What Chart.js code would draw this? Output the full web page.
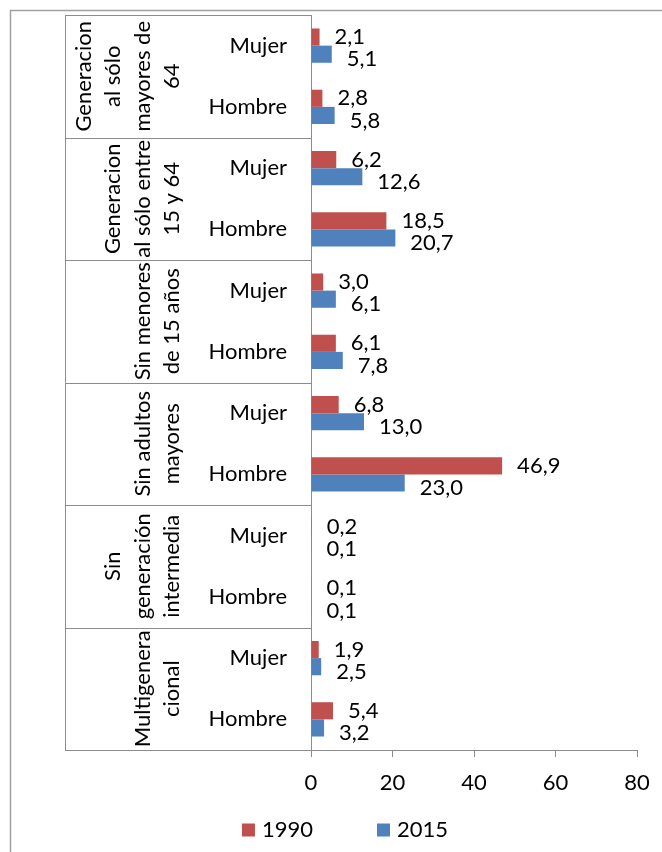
<!DOCTYPE html>
<html>
<head>
<meta charset="utf-8">
<script src="https://cdn.jsdelivr.net/npm/chart.js@4.4.1/dist/chart.umd.min.js"></script>
<style>
  html, body { margin: 0; padding: 0; background: #ffffff; }
  #wrap { width: 662px; height: 852px; position: relative; }
</style>
</head>
<body>
<div id="wrap"><canvas id="chart"></canvas></div>
<script>
// Household types (outer level of the category axis), one entry per text line
const groupLabels = [
  ['Generacion', 'al sólo', 'mayores de', '64'],
  ['Generacion', 'al sólo entre', '15 y 64'],
  ['Sin menores', 'de 15 años'],
  ['Sin adultos', 'mayores'],
  ['Sin', 'generación', 'intermedia'],
  ['Multigenera', 'cional']
];
// Inner level of the category axis
const sexes = ['Mujer', 'Hombre'];
// Series
const seriesNames = ['1990', '2015'];
const values1990 = [2.1, 2.8, 6.2, 18.5, 3.0, 6.1, 6.8, 46.9, 0.2, 0.1, 1.9, 5.4];
const values2015 = [5.1, 5.8, 12.6, 20.7, 6.1, 7.8, 13.0, 23.0, 0.1, 0.1, 2.5, 3.2];
// Value axis ticks
const xTicks = [0, 20, 40, 60, 80];

const categories = [];
groupLabels.forEach(() => sexes.forEach(s => categories.push(s)));

const FONT = 'Lato';
const FS = 22;
const GRAY = '#8c8c8c';
const fmt = v => v.toFixed(1).replace('.', ',');

// Outer frame of the chart object
const framePlugin = {
  id: 'frame',
  beforeDraw(chart) {
    const ctx = chart.ctx;
    ctx.save();
    ctx.strokeStyle = '#a0a0a0';
    ctx.lineWidth = 1.5;
    ctx.beginPath();
    ctx.moveTo(10.5, chart.height);
    ctx.lineTo(10.5, 10.5);
    ctx.lineTo(chart.width, 10.5);
    ctx.stroke();
    ctx.restore();
  }
};

// Multi-level category axis: group boxes and rotated group names
const groupAxisPlugin = {
  id: 'groupAxis',
  afterDraw(chart) {
    const ctx = chart.ctx;
    const ys = chart.scales.y;
    const area = chart.chartArea;
    const step = ys.getPixelForValue(1) - ys.getPixelForValue(0);
    const left = ys.left;
    ctx.save();
    ctx.strokeStyle = GRAY;
    ctx.lineWidth = 1;
    // vertical line at the outer edge of the table
    ctx.beginPath();
    ctx.moveTo(Math.round(left) + 0.5, area.top);
    ctx.lineTo(Math.round(left) + 0.5, area.bottom);
    ctx.stroke();
    // group separators
    for (let g = 0; g <= groupLabels.length; g++) {
      const idx = g * sexes.length;
      const y = ys.getPixelForValue(idx) - step / 2;
      const yy = Math.round(y) + 0.5;
      ctx.beginPath();
      ctx.moveTo(left, yy);
      ctx.lineTo(area.left, yy);
      ctx.stroke();
    }
    // rotated group names, lines stacked toward the inner labels
    ctx.fillStyle = '#000000';
    ctx.font = FS + 'px ' + FONT;
    ctx.textAlign = 'center';
    ctx.textBaseline = 'alphabetic';
    const lineGap = 29.5;
    const lastBase = left + 114;
    groupLabels.forEach((lines, g) => {
      const i0 = g * sexes.length;
      const i1 = i0 + sexes.length - 1;
      const yc = (ys.getPixelForValue(i0) + ys.getPixelForValue(i1)) / 2;
      const n = lines.length;
      lines.forEach((txt, k) => {
        const xb = lastBase - (n - 1 - k) * lineGap;
        ctx.save();
        ctx.translate(xb, yc);
        ctx.rotate(-Math.PI / 2);
        ctx.fillText(txt, 0, 0);
        ctx.restore();
      });
    });
    ctx.restore();
  }
};

// Value labels beside each bar
const valueLabelPlugin = {
  id: 'valueLabels',
  afterDatasetsDraw(chart) {
    const ctx = chart.ctx;
    ctx.save();
    ctx.fillStyle = '#000000';
    ctx.font = FS + 'px ' + FONT;
    ctx.textAlign = 'left';
    ctx.textBaseline = 'middle';
    const nudge = [0, 5];
    chart.data.datasets.forEach((ds, di) => {
      const meta = chart.getDatasetMeta(di);
      meta.data.forEach((bar, i) => {
        ctx.fillText(fmt(ds.data[i]), bar.x + 15, bar.y + nudge[di]);
      });
    });
    ctx.restore();
  }
};

// Series key below the value axis
const keyPlugin = {
  id: 'seriesKey',
  afterDraw(chart) {
    const ctx = chart.ctx;
    ctx.save();
    ctx.font = FS + 'px ' + FONT;
    ctx.textBaseline = 'middle';
    ctx.textAlign = 'left';
    const box = 13, gapText = 7, gapItem = 64;
    const items = chart.data.datasets.map(ds => ({
      label: ds.label, color: ds.backgroundColor, w: box + gapText + ctx.measureText(ds.label).width
    }));
    const total = items.reduce((s, it) => s + it.w, 0) + gapItem * (items.length - 1);
    let x = 345 - total / 2;
    const yc = 830;
    items.forEach(it => {
      ctx.fillStyle = it.color;
      ctx.fillRect(x, yc - box / 2, box, box);
      ctx.fillStyle = '#000000';
      ctx.fillText(it.label, x + box + gapText, yc);
      x += it.w + gapItem;
    });
    ctx.restore();
  }
};

new Chart(document.getElementById('chart'), {
  type: 'bar',
  data: {
    labels: categories,
    datasets: [
      { label: seriesNames[0], data: values1990, backgroundColor: '#C0504D', borderWidth: 0 },
      { label: seriesNames[1], data: values2015, backgroundColor: '#4F81BD', borderWidth: 0 }
    ]
  },
  options: {
    indexAxis: 'y',
    responsive: true,
    maintainAspectRatio: false,
    animation: false,
    devicePixelRatio: 1,
    layout: { padding: { left: 65, right: 25, top: 15, bottom: 42 } },
    datasets: { bar: { categoryPercentage: 0.56, barPercentage: 1.0 } },
    scales: {
      x: {
        type: 'linear',
        min: xTicks[0],
        max: xTicks[xTicks.length - 1],
        afterBuildTicks(scale) { scale.ticks = xTicks.map(v => ({ value: v })); },
        grid: { drawOnChartArea: false, drawTicks: true, tickLength: 7, color: GRAY },
        border: { display: true, color: GRAY, width: 1 },
        ticks: { color: '#000000', font: { family: FONT, size: FS }, padding: 13, maxRotation: 0 },
        afterFit(scale) { scale.height = 60; scale.paddingLeft = 0; scale.paddingRight = 0; }
      },
      y: {
        type: 'category',
        grid: { drawOnChartArea: false, drawTicks: false, color: GRAY },
        border: { display: true, color: GRAY, width: 1 },
        ticks: { color: '#000000', font: { family: FONT, size: FS }, padding: 24, autoSkip: false },
        afterFit(scale) { scale.width = 246; scale.paddingTop = 0; scale.paddingBottom = 0; }
      }
    },
    plugins: {
      legend: { display: false },
      tooltip: { enabled: false }
    }
  },
  plugins: [framePlugin, groupAxisPlugin, valueLabelPlugin, keyPlugin]
});
</script>
</body>
</html>
